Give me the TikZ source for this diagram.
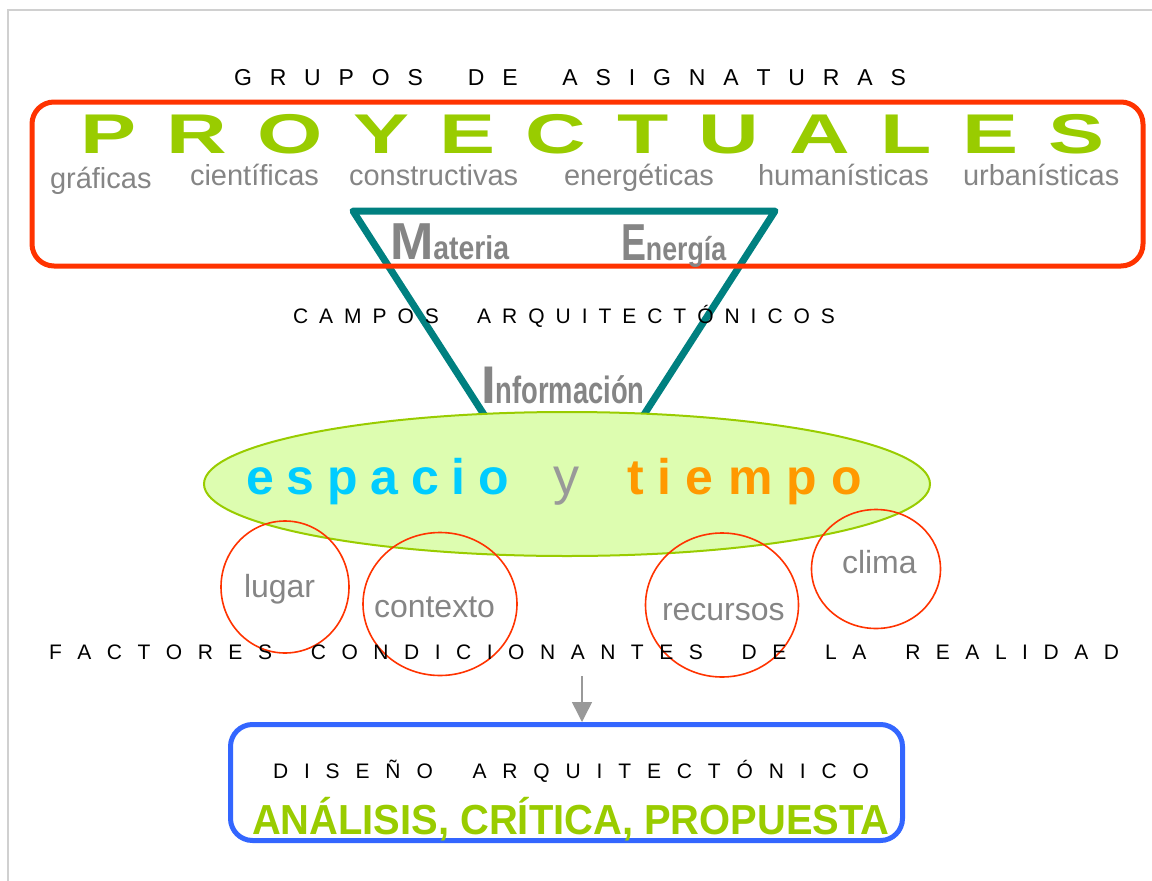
\documentclass[tikz,border=0pt]{standalone}
\usepackage{fontspec}
\setmainfont{Liberation Sans}
\newfontfamily\widefont{Liberation Sans}[FakeStretch=1.5]
\usetikzlibrary{arrows.meta,shapes.geometric}
\definecolor{lgreen}{HTML}{99CC00}
\definecolor{fillgreen}{HTML}{DDFDB0}
\definecolor{redc}{HTML}{FF3300}
\definecolor{tealc}{HTML}{008080}
\definecolor{grayt}{HTML}{858585}
\definecolor{grayy}{HTML}{999999}
\definecolor{cyanc}{HTML}{00CCFF}
\definecolor{orangec}{HTML}{FF9900}
\definecolor{bluec}{HTML}{3366FF}
\definecolor{framec}{HTML}{D0D0D0}
\definecolor{arrowc}{HTML}{999999}
\newcommand\LS{\hspace{0pt plus 1fill}}
\newcommand\WS{\hspace{0pt plus 2.5fill}}
\newcommand\WSb{\hspace{0pt plus 3.5fill}}
\newcommand\fsz[1]{\fontsize{#1}{#1}\selectfont}
\begin{document}
\begin{tikzpicture}[x=1pt,y=-1pt,
  t/.style={inner sep=0pt, outer sep=0pt, anchor=base west},
  heading/.style={t, font=\fsz{23}, text=black},
  sub/.style={t, font=\fsz{29}, text=grayt},
  factor/.style={t, font=\fsz{32}, text=grayt},
  factorring/.style={ellipse, draw=redc, line width=1.6pt, inner sep=0pt},
  roundbox/.style={draw, line width=5pt, rounded corners=22pt, inner sep=0pt},
]
\useasboundingbox (0,0) rectangle (1152,881);
% frame
\draw[framec, line width=1.5pt] (8,881) -- (8,10) -- (1152,10);

% top heading
\node[heading] (grupos) at (234,85) {\makebox[672pt][s]{G\LS R\LS U\LS P\LS O\LS S\WS D\LS E\WS A\LS S\LS I\LS G\LS N\LS A\LS T\LS U\LS R\LS A\LS S}};

% triangle
\coordinate (tl) at (353,211);
\coordinate (tr) at (775,211);
\coordinate (tb) at (564,539);
\draw[tealc, line width=7pt, line join=round] (tl) -- (tr) -- (tb) -- cycle;

% red box
\node[roundbox, draw=redc, minimum width=1111pt, minimum height=164pt] (proybox) at (587.5,184) {};
\node[t, font=\widefont\bfseries\fsz{56}, text=lgreen] (proy) at (80,153) {\makebox[1025pt][s]{P\LS R\LS O\LS Y\LS E\LS C\LS T\LS U\LS A\LS L\LS E\LS S}};
\node[sub] (graf) at (50,188) {gráficas};
\node[sub] (cien) at (190,185) {científicas};
\node[sub] (cons) at (349,185) {constructivas};
\node[sub] (ener) at (564,185) {energéticas};
\node[sub] (huma) at (758,185) {humanísticas};
\node[sub] (urba) at (963,185) {urbanísticas};

% Materia / Energia
\node[t, text=grayt] (materia) at (390,259) {{\bfseries\fsz{52}M}\scalebox{0.86}[1]{\bfseries\fsz{33}ateria}};
\node[t, text=grayt] (energia) at (621,260) {\scalebox{0.72}[1]{\bfseries\fsz{52}E}\scalebox{0.81}[1]{\bfseries\fsz{33}nergía}};

% campos
\node[heading, font=\fsz{21}] (campos) at (293,323) {\makebox[542pt][s]{C\LS A\LS M\LS P\LS O\LS S\WSb A\LS R\LS Q\LS U\LS I\LS T\LS E\LS C\LS T\LS Ó\LS N\LS I\LS C\LS O\LS S}};

% Informacion
\node[t, text=grayt] (info) at (481,403) {{\bfseries\fsz{53}I}\scalebox{0.72}[1]{\bfseries\fsz{38}nformación}};

% ellipse
\node[ellipse, draw=lgreen, fill=fillgreen, line width=2pt, minimum width=726pt, minimum height=144pt, inner sep=0pt] (et) at (567,484) {};
\node[t, font=\bfseries\fsz{50}, text=cyanc] (espacio) at (246,494) {\makebox[263pt][s]{e\LS s\LS p\LS a\LS c\LS i\LS o}};
\node[t, font=\fsz{52}, text=grayy] (y) at (553,494) {y};
\node[t, font=\bfseries\fsz{50}, text=orangec] (tiempo) at (627,494) {\makebox[235pt][s]{t\LS i\LS e\LS m\LS p\LS o}};

% factor rings
\node[factorring, minimum width=128pt, minimum height=132pt] (lugarc) at (285,587) {};
\node[factorring, minimum width=154pt, minimum height=143pt] (contextoc) at (440,604) {};
\node[factorring, minimum width=153pt, minimum height=144pt] (recursosc) at (722,605) {};
\node[factorring, minimum width=129pt, minimum height=119pt] (climac) at (876,569) {};
\node[factor] (lugar) at (244,597) {lugar};
\node[factor] (contexto) at (374,617) {contexto};
\node[factor] (recursos) at (662,620) {recursos};
\node[factor] (clima) at (842,573) {clima};

% factores heading
\node[heading, font=\fsz{21}] (factores) at (49,659) {\makebox[1070pt][s]{F\LS A\LS C\LS T\LS O\LS R\LS E\LS S\WS C\LS O\LS N\LS D\LS I\LS C\LS I\LS O\LS N\LS A\LS N\LS T\LS E\LS S\WS D\LS E\WS L\LS A\WS R\LS E\LS A\LS L\LS I\LS D\LS A\LS D}};

% bottom box
\node[roundbox, draw=bluec, minimum width=672pt, minimum height=116pt] (diseno) at (566.5,782.5) {};
\node[heading, font=\fsz{21}] (disenot) at (273,778) {\makebox[596pt][s]{D\LS I\LS S\LS E\LS Ñ\LS O\WS A\LS R\LS Q\LS U\LS I\LS T\LS E\LS C\LS T\LS Ó\LS N\LS I\LS C\LS O}};
\node[t, text=lgreen] (analisis) at (252,834) {\scalebox{0.95}[1]{\bfseries\fsz{42}ANÁLISIS, CRÍTICA, PROPUESTA}};

% arrow
\coordinate (arrs) at (582,676);
\draw[arrowc, line width=1.5pt, -{Triangle[length=20pt,width=20pt]}] (arrs) -- (arrs |- diseno.north);
\end{tikzpicture}
\end{document}
